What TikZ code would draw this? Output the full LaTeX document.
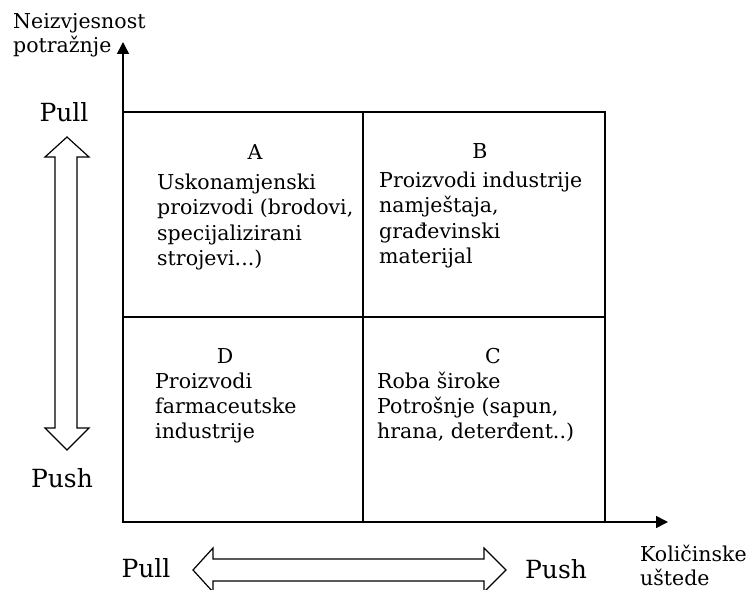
\documentclass[tikz,border=0pt]{standalone}
\usepackage{fontspec}
\setmainfont{DejaVu Serif}
\usetikzlibrary{arrows.meta}
\begin{document}
\begin{tikzpicture}[x=1bp,y=-1bp,
  qtext/.style={font=\fontsize{20.5bp}{25bp}\selectfont, inner sep=0pt, align=left, anchor=base west},
  qletter/.style={font=\fontsize{20.5bp}{25bp}\selectfont, inner sep=0pt, anchor=base},
  big/.style={font=\fontsize{25bp}{28bp}\selectfont, inner sep=0pt, anchor=base},
  axlabel/.style={font=\fontsize{20.5bp}{24bp}\selectfont, inner sep=0pt, align=left, anchor=base west},
  frame/.style={line width=1.4bp},
  axis/.style={line width=1.6bp, -{Triangle[length=12bp,width=12bp]}},
  fat/.style={line width=1.2bp, line join=miter}]
\useasboundingbox (0,0) rectangle (748,590);
% frame
\draw[frame] (123,112) rectangle (605,522);
\draw[frame] (363,112) -- (363,522);
\draw[frame] (123,317) -- (605,317);
% axes
\coordinate (origin) at (123,522);
\coordinate (xend) at (668,522);
\coordinate (yend) at (123,42);
\draw[axis] (origin) -- (xend);
\draw[axis] (origin) -- (yend);
% axis labels (anchor = baseline of last line)
\node[axlabel] (ylab) at (13,53) {Neizvjesnost\\potražnje};
\node[axlabel] (xlab) at (640,585) {Količinske\\uštede};
% quadrants
\node[qletter] (la) at (255,160) {A};
\node[qtext] (ta) at (157,265) {Uskonamjenski\\proizvodi (brodovi,\\specijalizirani\\strojevi...)};
\node[qletter] (lb) at (480,159) {B};
\node[qtext] (tb) at (379,263) {Proizvodi industrije\\namještaja,\\građevinski\\materijal};
\node[qletter] (ld) at (225,363) {D};
\node[qtext] (td) at (155,438) {Proizvodi\\farmaceutske\\industrije};
\node[qletter] (lc) at (493,363) {C};
\node[qtext] (tc) at (377,438) {Roba široke\\Potrošnje (sapun,\\hrana, deterđent..)};
% fat double arrows
\draw[fat] (67,137) -- (89,157) -- (77,157) -- (77,428) -- (89,428) -- (67,450) -- (45,428) -- (55,428) -- (55,157) -- (45,157) -- cycle;
\draw[fat] (193,570) -- (213,548) -- (213,559) -- (484,559) -- (484,548) -- (506,570) -- (484,592) -- (484,581) -- (213,581) -- (213,592) -- cycle;
% pull / push labels
\node[big] (pullv) at (64,122) {Pull};
\node[big] (pushv) at (62,487) {Push};
\node[big] (pullh) at (146,577) {Pull};
\node[big] (pushh) at (556,578) {Push};
\end{tikzpicture}
\end{document}
